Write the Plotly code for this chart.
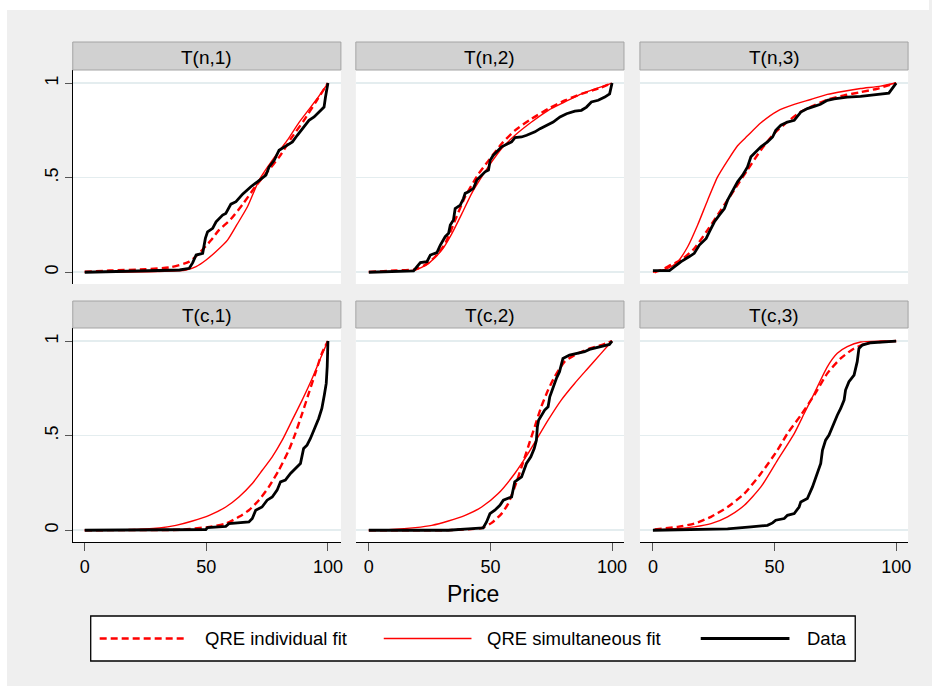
import plotly.graph_objects as go

W, H = 932, 686

panel_titles = ["T(n,1)", "T(n,2)", "T(n,3)", "T(c,1)", "T(c,2)", "T(c,3)"]
series_names = ["QRE individual fit", "QRE simultaneous fit", "Data"]
x_ticks = [0, 50, 100]
x_tick_labels = ["0", "50", "100"]
y_ticks = [0, 0.5, 1]
y_tick_labels = ["0", ".5", "1"]
x_title = "Price"

# ---------------- T(n,1) ----------------
n1_ind_x = [0, 10, 25, 35, 43, 47, 52, 55, 60, 65, 70, 75, 80, 85, 90, 95, 100]
n1_ind_y = [0.003, 0.009, 0.016, 0.026, 0.056, 0.1, 0.17, 0.22, 0.28, 0.36, 0.45, 0.53, 0.61, 0.71, 0.80, 0.90, 1.0]
n1_sim_x = [0, 30, 41.7, 45.8, 49.9, 54, 58.7, 62.5, 66.9, 71.7, 77, 83.3, 88, 92.9, 96.5, 100]
n1_sim_y = [0, 0.004, 0.012, 0.03, 0.065, 0.11, 0.17, 0.25, 0.346, 0.487, 0.59, 0.698, 0.79, 0.873, 0.935, 1]
n1_dat_x = [0, 39, 43, 44.4, 45.8, 48.5, 49.6, 50.5, 52.6, 54, 56.7, 58, 60.1, 62.2, 64.9, 66.9, 68.3,
            71, 73.8, 74.5, 75.8, 77.9, 79.9, 82, 85.4, 87.4, 89.5, 92.2, 94.3, 96.3, 98.4, 99, 100]
n1_dat_y = [0, 0.012, 0.021, 0.051, 0.091, 0.1, 0.179, 0.214, 0.232, 0.267, 0.302, 0.311, 0.36, 0.373,
            0.413, 0.438, 0.452, 0.478, 0.504, 0.513, 0.557, 0.592, 0.645, 0.663, 0.689, 0.724, 0.759,
            0.803, 0.821, 0.847, 0.873, 0.926, 1]

# ---------------- T(n,2) ----------------
n2_ind_x = [0, 10.9, 19.1, 23.2, 27.3, 31.4, 35.5, 39.6, 45.1, 49.2, 54.6, 60.1, 66.9, 73.8, 80.6, 87.4, 94.3, 100]
n2_ind_y = [0.002, 0.009, 0.016, 0.039, 0.082, 0.152, 0.276, 0.399, 0.52, 0.59, 0.679, 0.75, 0.811, 0.864, 0.908, 0.943, 0.97, 1]
n2_sim_x = [0, 10.9, 19.1, 24.6, 30, 34.2, 38.3, 42.3, 46.4, 50.5, 54.6, 60.1, 66.9, 73.8, 80.6, 87.4, 94.3, 100]
n2_sim_y = [0.001, 0.005, 0.012, 0.047, 0.117, 0.206, 0.311, 0.417, 0.504, 0.583, 0.654, 0.724, 0.794, 0.856, 0.9, 0.943, 0.975, 1]
n2_dat_x = [0, 18.4, 19.8, 21.2, 23.9, 25.3, 28, 29.4, 31.4, 32.8, 33.5, 34.8, 35.5, 37.6, 38.9, 39.6, 41,
            43, 44.4, 45.8, 47.8, 49.2, 49.9, 51.2, 53.3, 54.6, 56.7, 58.7, 60.1, 62.8, 64.9, 68.3, 70.4,
            73.1, 75.8, 78.6, 81.3, 84.7, 87.4, 89.5, 91.5, 94.3, 97, 99, 100]
n2_dat_y = [0, 0.007, 0.03, 0.051, 0.056, 0.091, 0.104, 0.144, 0.188, 0.206, 0.25, 0.276, 0.337, 0.355,
            0.39, 0.417, 0.425, 0.443, 0.487, 0.504, 0.531, 0.54, 0.592, 0.619, 0.645, 0.663, 0.677, 0.689,
            0.712, 0.715, 0.724, 0.742, 0.759, 0.777, 0.794, 0.821, 0.838, 0.852, 0.856, 0.873, 0.9, 0.909,
            0.926, 0.943, 1]

# ---------------- T(n,3) ----------------
n3_ind_x = [0.7, 3.4, 7.5, 11.6, 17.1, 22.5, 28, 33.5, 38.9, 44.4, 49.9, 55.3, 60.8, 66.3, 71.7, 78.6, 85.4, 92.2, 100]
n3_ind_y = [0, 0.012, 0.039, 0.065, 0.127, 0.224, 0.33, 0.436, 0.541, 0.646, 0.734, 0.795, 0.848, 0.882, 0.912, 0.935, 0.952, 0.97, 1]
n3_sim_x = [0, 6.1, 10.2, 14.3, 18.4, 22.5, 26.6, 30.7, 34.8, 38.9, 44.4, 51.2, 58.1, 64.9, 71.7, 78.6, 85.4, 93.6, 100]
n3_sim_y = [0, 0.021, 0.056, 0.135, 0.25, 0.381, 0.504, 0.59, 0.669, 0.721, 0.79, 0.852, 0.887, 0.913, 0.94, 0.957, 0.971, 0.984, 1]
n3_dat_x = [0, 6.8, 8.9, 11.6, 15, 17, 19.1, 21.9, 23.2, 25.3, 27.3, 29.4, 30.7, 32.8, 34.8, 36.9, 38.9,
            40.3, 42.3, 44.4, 47.1, 49.2, 50.5, 52.6, 55.3, 58.1, 60.8, 63.5, 66.3, 68.9, 71.7, 74.5, 79.9,
            85.4, 90.8, 97, 100]
n3_dat_y = [0.009, 0.009, 0.03, 0.056, 0.083, 0.1, 0.144, 0.179, 0.214, 0.267, 0.302, 0.337, 0.381, 0.434,
            0.478, 0.513, 0.557, 0.61, 0.636, 0.663, 0.689, 0.715, 0.75, 0.777, 0.794, 0.803, 0.847, 0.865,
            0.877, 0.888, 0.909, 0.917, 0.926, 0.93, 0.938, 0.947, 1]

# ---------------- T(c,1) ----------------
c1_ind_x = [0, 17, 40, 51.2, 58, 63.4, 67.5, 71.6, 75.7, 79.8, 83.9, 86.6, 89.4, 92.1, 94.8, 97.5, 100]
c1_ind_y = [0, 0.001, 0.003, 0.018, 0.035, 0.071, 0.106, 0.159, 0.229, 0.317, 0.423, 0.511, 0.617, 0.723, 0.829, 0.935, 1]
c1_sim_x = [0, 17, 30.7, 37.5, 44.3, 51.2, 58, 63.4, 68.9, 73, 77.1, 81.2, 85.3, 89.4, 93.5, 97.5, 100]
c1_sim_y = [0, 0.002, 0.012, 0.026, 0.049, 0.079, 0.123, 0.176, 0.247, 0.317, 0.388, 0.476, 0.582, 0.688, 0.802, 0.926, 1]
c1_dat_x = [0, 49.8, 50.5, 58, 59.3, 67.5, 68.9, 70.3, 72.9, 75, 77.1, 79.1, 80.5, 82.5, 84.6, 86.6, 88.7,
            90, 91.4, 92.8, 94.1, 94.8, 96.2, 97.5, 98.5, 99.3, 99.7, 100]
c1_dat_y = [0, 0.004, 0.014, 0.021, 0.035, 0.044, 0.062, 0.106, 0.123, 0.159, 0.176, 0.212, 0.256, 0.265,
            0.3, 0.326, 0.353, 0.432, 0.45, 0.485, 0.52, 0.547, 0.591, 0.644, 0.714, 0.776, 0.864, 1]

# ---------------- T(c,2) ----------------
c2_ind_x = [0, 32.7, 46.4, 50.5, 54.6, 57.3, 60, 62.8, 65.5, 68.2, 70.9, 73.7, 76.4, 80.5, 84.6, 90, 95.5, 100]
c2_ind_y = [0, 0.001, 0.012, 0.039, 0.088, 0.141, 0.229, 0.335, 0.441, 0.547, 0.653, 0.741, 0.811, 0.891, 0.926, 0.956, 0.979, 1]
c2_sim_x = [0, 9.5, 19.1, 25.9, 32.7, 39.6, 46.4, 53.2, 60, 65.5, 69.6, 73.7, 79.1, 84.6, 90, 95.5, 100]
c2_sim_y = [0, 0.004, 0.014, 0.026, 0.049, 0.079, 0.123, 0.194, 0.3, 0.406, 0.494, 0.582, 0.688, 0.776, 0.855, 0.935, 1]
c2_dat_x = [0, 32.7, 40.9, 47, 48.4, 49.8, 51.8, 53.9, 55.3, 58.7, 60, 62.8, 64.8, 66.6, 68, 68.9, 69.3,
            69.8, 72.3, 73.7, 74.4, 75.7, 77.1, 78.4, 79.8, 82.5, 85.9, 88.7, 90.7, 95.5, 98.9, 100]
c2_dat_y = [0, 0, 0.007, 0.012, 0.044, 0.088, 0.106, 0.132, 0.159, 0.176, 0.256, 0.282, 0.353, 0.388,
            0.432, 0.476, 0.547, 0.582, 0.635, 0.653, 0.705, 0.758, 0.802, 0.838, 0.908, 0.926, 0.935,
            0.944, 0.956, 0.97, 0.982, 1]

# ---------------- T(c,3) ----------------
c3_ind_x = [0.7, 10.2, 17, 23.9, 30.7, 37.6, 44.4, 51.2, 55.3, 60.8, 66.3, 71.7, 77.2, 82.7, 88.1, 100]
c3_ind_y = [0.004, 0.018, 0.035, 0.071, 0.123, 0.194, 0.3, 0.423, 0.511, 0.608, 0.714, 0.829, 0.908, 0.961, 0.988, 1]
c3_sim_x = [0.7, 10.2, 17, 23.9, 30.7, 37.6, 44.4, 51.2, 58.1, 62.2, 66.3, 71.7, 75.8, 79.9, 85.4, 93.6, 100]
c3_sim_y = [0, 0.009, 0.018, 0.035, 0.071, 0.132, 0.229, 0.37, 0.511, 0.617, 0.723, 0.864, 0.935, 0.97, 0.995, 1, 1]
c3_dat_x = [0, 17, 30.7, 40.3, 47.1, 49.2, 50.5, 54, 55.3, 58.1, 60.1, 60.8, 63.5, 65.6, 67.6, 69, 69.7,
            71, 72.4, 74.5, 75.8, 77.2, 78.6, 79.2, 80.6, 82.7, 84, 84.7, 86.1, 89.5, 93.6, 100]
c3_dat_y = [0, 0.004, 0.007, 0.018, 0.026, 0.039, 0.053, 0.062, 0.079, 0.088, 0.123, 0.15, 0.168, 0.229,
            0.3, 0.353, 0.423, 0.476, 0.503, 0.573, 0.608, 0.644, 0.688, 0.741, 0.785, 0.82, 0.891, 0.961,
            0.979, 0.991, 0.995, 1]

panels = [
    (n1_ind_x, n1_ind_y, n1_sim_x, n1_sim_y, n1_dat_x, n1_dat_y),
    (n2_ind_x, n2_ind_y, n2_sim_x, n2_sim_y, n2_dat_x, n2_dat_y),
    (n3_ind_x, n3_ind_y, n3_sim_x, n3_sim_y, n3_dat_x, n3_dat_y),
    (c1_ind_x, c1_ind_y, c1_sim_x, c1_sim_y, c1_dat_x, c1_dat_y),
    (c2_ind_x, c2_ind_y, c2_sim_x, c2_sim_y, c2_dat_x, c2_dat_y),
    (c3_ind_x, c3_ind_y, c3_sim_x, c3_sim_y, c3_dat_x, c3_dat_y),
]

# ---------------- styling / layout ----------------
FONT = "Liberation Sans, Arial, sans-serif"
RED = "#ff0000"
BG = "#efefef"
GRID = "#e4edef"
DASH = "7px,4px"


def fx(p):
    return p / W


def fy(p):
    return 1 - p / H


col_px = [(73, 342), (357, 626), (642, 911)]
col_range = [[-4.92, 105.33], [-5.33, 104.9], [-5.33, 104.9]]
row_px = [(70, 284), (328, 542)]
head_px = [(42, 70), (301, 328)]
y_range = [-0.062, 1.069]

fig = go.Figure()
layout = dict(
    width=W, height=H,
    margin=dict(l=0, r=0, t=0, b=0),
    paper_bgcolor=BG, plot_bgcolor="white",
    showlegend=False,
    font=dict(family=FONT, color="black"),
)
shapes = []
annotations = []

for k, (ix, iy, sx, sy, dx, dy) in enumerate(panels):
    n = k + 1
    r, c = divmod(k, 3)
    xa = "x" if n == 1 else f"x{n}"
    ya = "y" if n == 1 else f"y{n}"
    fig.add_trace(go.Scatter(x=ix, y=iy, mode="lines", name=series_names[0], xaxis=xa, yaxis=ya,
                             line=dict(color=RED, width=2.4, dash=DASH, shape="spline", smoothing=0.6),
                             hoverinfo="skip"))
    fig.add_trace(go.Scatter(x=sx, y=sy, mode="lines", name=series_names[1], xaxis=xa, yaxis=ya,
                             line=dict(color=RED, width=1.4, shape="spline", smoothing=0.6),
                             hoverinfo="skip"))
    fig.add_trace(go.Scatter(x=dx, y=dy, mode="lines", name=series_names[2], xaxis=xa, yaxis=ya,
                             line=dict(color="black", width=2.8), hoverinfo="skip"))

    bottom = (r == 1)
    left = (c == 0)
    layout["xaxis" if n == 1 else f"xaxis{n}"] = dict(
        domain=[fx(col_px[c][0]), fx(col_px[c][1])], range=col_range[c], anchor=ya,
        showgrid=False, zeroline=False,
        showline=bottom, linecolor="black", linewidth=1,
        ticks="outside" if bottom else "", ticklen=8, tickcolor="#555", tickwidth=1,
        tickvals=x_ticks, ticktext=x_tick_labels, showticklabels=bottom,
        tickfont=dict(size=18, family=FONT, color="black"), fixedrange=True,
    )
    layout["yaxis" if n == 1 else f"yaxis{n}"] = dict(
        domain=[fy(row_px[r][1]), fy(row_px[r][0])], range=y_range, anchor=xa,
        showgrid=True, gridcolor=GRID, gridwidth=1.6, zeroline=False,
        showline=left, linecolor="black", linewidth=1,
        ticks="outside" if left else "", ticklen=7, tickcolor="#555", tickwidth=1,
        tickvals=y_ticks, ticktext=y_tick_labels, showticklabels=left, tickangle=-90,
        tickfont=dict(size=18, family=FONT, color="black"), fixedrange=True,
    )
    # header strip
    shapes.append(dict(type="rect", xref="paper", yref="paper",
                       x0=fx(col_px[c][0]), x1=fx(col_px[c][1]),
                       y0=fy(head_px[r][1]), y1=fy(head_px[r][0]),
                       fillcolor="#d1d1d1", line=dict(color="#a4a4a4", width=1)))
    annotations.append(dict(text=panel_titles[k], xref="paper", yref="paper",
                            x=fx((col_px[c][0] + col_px[c][1]) / 2),
                            y=fy((head_px[r][0] + head_px[r][1]) / 2 + 1),
                            xanchor="center", yanchor="middle", showarrow=False,
                            font=dict(size=19, family=FONT, color="black")))

# thin white outer margin (top and left)
shapes.append(dict(type="rect", xref="paper", yref="paper", x0=0, x1=fx(7), y0=0, y1=1,
                   fillcolor="white", line=dict(width=0)))
shapes.append(dict(type="rect", xref="paper", yref="paper", x0=0, x1=1, y0=fy(10), y1=1,
                   fillcolor="white", line=dict(width=0)))

# x-axis title
annotations.append(dict(text=x_title, xref="paper", yref="paper", x=fx(475), y=fy(594),
                        xanchor="center", yanchor="middle", showarrow=False,
                        font=dict(size=23, family=FONT, color="black")))

# legend box (drawn as key)
leg_y = 638.5
shapes.append(dict(type="rect", xref="paper", yref="paper", x0=fx(91), x1=fx(858),
                   y0=fy(661), y1=fy(616), fillcolor="white", line=dict(color="black", width=1.3)))
legend_keys = [
    (100, 188, dict(color=RED, width=2.6, dash=DASH), 204),
    (385, 473, dict(color=RED, width=1.5), 487),
    (703, 792, dict(color="black", width=3), 808),
]
for (x0, x1, ln, tx), name in zip(legend_keys, series_names):
    shapes.append(dict(type="line", xref="paper", yref="paper", x0=fx(x0), x1=fx(x1),
                       y0=fy(leg_y), y1=fy(leg_y), line=ln))
    annotations.append(dict(text=name, xref="paper", yref="paper", x=fx(tx), y=fy(leg_y),
                            xanchor="left", yanchor="middle", showarrow=False,
                            font=dict(size=18.5, family=FONT, color="black")))

layout["shapes"] = shapes
layout["annotations"] = annotations
fig.update_layout(**layout)
fig.write_html("out.html",
               config={"displayModeBar": False, "staticPlot": True},
               post_script="document.body.style.margin='0';document.body.style.overflow='hidden';")
